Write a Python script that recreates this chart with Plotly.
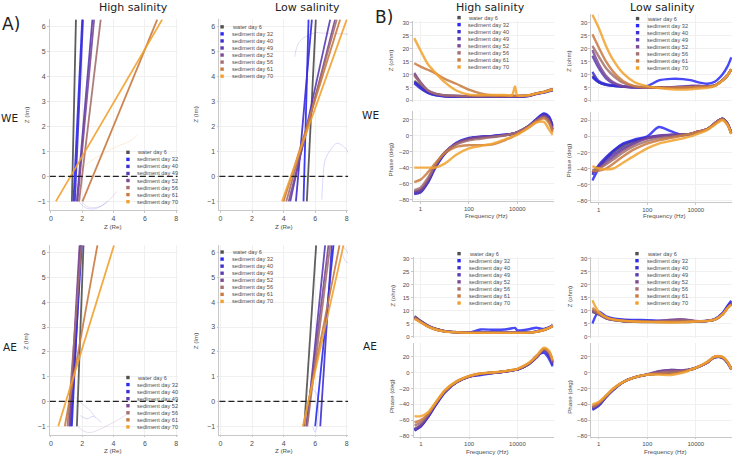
import plotly.graph_objects as go

W, H = 738, 458

SERIES = ["water day 6", "sediment day 32", "sediment day 40", "sediment day 49",
          "sediment day 52", "sediment day 56", "sediment day 61", "sediment day 70"]
COLORS = ["#505050", "#2a2af5", "#3d30d0", "#5b3cb4", "#7d4b94", "#a5706f", "#c97b40", "#f2a12e"]

# ---------------- Nyquist (panel A): Z(Re) where each tail crosses Z(Im) = -1 and the panel top
IM_ENDS = [-1.0, 6.3]
WE_HIGH_RE = [[1.34, 1.60], [1.44, 2.00], [1.53, 2.05], [1.66, 2.65], [1.70, 2.76], [1.80, 3.18], [2.02, 6.79], [0.32, 7.11]]
WE_LOW_RE = [[5.47, 6.04], [5.26, 5.58], [4.78, 5.79], [4.42, 6.95], [4.32, 7.26], [4.17, 7.37], [4.00, 7.58], [3.90, 8.00]]
AE_HIGH_RE = [[1.66, 2.08], [1.34, 1.91], [1.27, 1.97], [1.21, 1.87], [1.17, 1.83], [1.06, 1.95], [0.89, 2.97], [0.47, 4.03]]
AE_LOW_RE = [[5.31, 6.06], [6.00, 7.16], [6.32, 7.05], [5.47, 6.63], [5.43, 6.84], [5.50, 6.95], [5.26, 7.54], [5.22, 7.79]]

# faint high-frequency arcs (series index, Z(Re), Z(Im))
WE_HIGH_ARCS = [(4, [1.6, 1.9, 2.3, 2.8, 3.3, 3.8, 4.2], [-0.3, -0.9, -1.2, -1.25, -1.15, -0.9, -0.6]),
                (1, [1.5, 1.8, 2.2, 2.7, 3.2, 3.6], [-0.5, -1.0, -1.25, -1.3, -1.2, -1.0]),
                (7, [1.8, 2.5, 3.3, 4.2, 5.0, 5.5], [0.2, 0.6, 0.9, 1.2, 1.4, 1.65])]
WE_LOW_ARCS = [(1, [6.42, 6.5, 6.63, 7.0, 7.37, 7.8, 8.1, 8.3], [-0.93, 0.0, 0.66, 1.1, 1.33, 1.2, 0.93, -0.93]),
               (3, [4.7, 5.0, 5.9, 6.5, 8.2], [4.8, 5.4, 5.75, 5.75, 5.7])]
AE_HIGH_ARCS = [(4, [1.7, 2.1, 2.55, 3.2, 3.82, 4.4, 4.88], [-1.0, -1.2, -1.25, -1.1, -0.9, -0.7, -0.5]),
                (1, [1.9, 2.3, 2.7, 3.2], [-0.57, -0.7, -0.6, -0.84]),
                (3, [1.6, 2.0, 2.4, 2.8], [0.16, -0.1, -0.3, -0.6])]
AE_LOW_ARCS = [(1, [5.79, 6.1, 6.2, 6.0, 5.85], [0.55, 0.29, -0.5, -1.24, -1.04]),
               (1, [7.68, 8.3, 8.0, 7.7], [6.33, 5.67, 5.6, 6.0])]

# ---------------- Bode (panel B)
FREQ = [0.55, 1, 2, 4, 10, 30, 100, 300, 1000, 3000, 6000, 8000, 10000, 30000, 60000, 125000, 200000, 290000]

WE_HIGH_Z = [
    [7.5, 5.6, 3.4, 2.3, 1.8, 1.6, 1.6, 1.6, 1.6, 1.6, 1.6, 1.6, 1.6, 1.9, 2.6, 3.2, 3.7, 4.1],
    [7.0, 5.0, 3.0, 2.0, 1.6, 1.5, 1.5, 1.5, 1.5, 1.5, 1.5, 1.5, 1.5, 1.8, 2.5, 3.1, 3.6, 4.0],
    [6.6, 4.6, 2.9, 2.0, 1.5, 1.4, 1.4, 1.4, 1.4, 1.4, 1.4, 1.4, 1.4, 1.7, 2.4, 3.0, 3.5, 3.9],
    [10.0, 6.6, 3.6, 2.5, 1.8, 1.7, 1.6, 1.6, 1.6, 1.6, 1.6, 1.6, 1.6, 1.9, 2.6, 3.2, 3.8, 4.2],
    [10.6, 7.0, 3.8, 2.6, 1.9, 1.7, 1.6, 1.6, 1.6, 1.6, 1.6, 1.6, 1.6, 1.9, 2.6, 3.2, 3.8, 4.2],
    [9.6, 6.6, 3.9, 2.6, 2.0, 1.8, 1.7, 1.7, 1.7, 1.7, 1.7, 1.7, 1.7, 2.0, 2.7, 3.3, 3.9, 4.3],
    [14.3, 13.0, 11.8, 10.5, 8.3, 6.4, 4.1, 2.7, 1.9, 1.8, 1.8, 1.8, 1.8, 2.0, 2.7, 3.3, 3.9, 4.3],
    [24.0, 19.2, 14.0, 10.8, 7.0, 3.8, 2.2, 2.0, 2.1, 2.1, 2.0, 5.4, 2.0, 2.0, 2.6, 3.2, 3.7, 4.1],
]
WE_HIGH_P = [
    [-70, -68, -56, -39, -22, -10, -4, -2, -1, 0.5, 2, 3, 4, 12, 19, 25, 20, 8],
    [-72, -70, -58, -40, -22, -9, -3, -1.5, -0.5, 1, 2, 3, 4, 12, 20, 27.5, 24, 12],
    [-73, -71, -59, -41, -23, -10, -3.5, -1.5, -0.5, 1, 2, 3, 4, 12, 20, 27, 23, 11],
    [-72, -70, -57, -39, -22, -10, -4, -2, -1, 0.5, 2, 3, 4, 12, 19, 25, 20, 8],
    [-70, -68, -56, -38, -21, -10, -4, -2, -1, 0.5, 2, 3, 4, 12, 19, 24.5, 20, 7],
    [-68, -65, -53, -37, -21, -11, -6, -4, -2, 0, 2, 3, 4, 11.5, 18, 23, 18, 6],
    [-58, -55, -46, -35, -22, -14, -12, -12, -11, -6, -2, 0, 2, 10, 17, 21.5, 16, 4],
    [-40, -40, -40, -40, -35, -24, -16, -13, -10, -5, -1.5, 0, 1, 10, 16, 17, 8, 1],
]
WE_LOW_Z = [
    [9.5, 7.0, 6.0, 5.6, 5.3, 5.1, 5.0, 5.0, 5.0, 5.0, 5.1, 5.1, 5.1, 5.3, 5.7, 7.7, 9.6, 12.0],
    [9.0, 7.0, 6.0, 5.6, 5.3, 5.0, 5.5, 7.7, 8.3, 8.2, 7.8, 7.5, 7.2, 6.4, 7.2, 10.0, 13.0, 16.6],
    [11.0, 7.5, 6.3, 5.8, 5.4, 5.1, 5.0, 5.0, 5.0, 5.0, 5.1, 5.1, 5.1, 5.3, 5.7, 7.7, 9.6, 12.0],
    [17.2, 12.5, 8.5, 6.5, 5.3, 5.0, 4.9, 5.0, 5.1, 5.4, 5.6, 5.6, 5.6, 5.5, 5.7, 7.7, 9.6, 12.0],
    [19.4, 14.0, 9.5, 7.0, 5.5, 5.0, 4.9, 4.9, 5.0, 5.2, 5.5, 5.6, 5.6, 5.5, 5.7, 7.7, 9.6, 12.0],
    [21.0, 17.0, 12.5, 9.5, 6.8, 5.4, 5.0, 4.9, 4.9, 5.0, 5.1, 5.1, 5.2, 5.3, 5.7, 7.7, 9.6, 12.0],
    [25.5, 20.5, 15.0, 11.0, 7.5, 5.5, 5.0, 4.9, 4.9, 5.0, 5.1, 5.1, 5.2, 5.3, 5.7, 7.7, 9.6, 12.0],
    [33.0, 28.0, 21.0, 15.5, 10.5, 7.0, 5.5, 4.8, 4.3, 4.2, 4.3, 4.4, 4.5, 4.8, 5.5, 7.5, 9.6, 12.0],
]
WE_LOW_P = [
    [-45, -37, -28, -20, -12, -6, -2, 0, 1, 2, 3, 4, 5, 9, 16, 21.5, 15, 4],
    [-55, -40, -28, -18, -9, -4, 0, 11.5, 6, 1.5, 2.5, 3.5, 4.5, 9, 16, 22, 16, 4],
    [-48, -36, -26, -18, -10, -5, -1.5, 0, 1, 1.5, 3, 4, 5, 9, 16, 22, 16, 4],
    [-46, -38, -30, -23, -15, -8, -2, 1, 2, 2, 3, 4, 5, 9, 16, 22, 16, 4],
    [-45, -40, -33, -26, -17, -9, -3, 0, 2, 2.5, 3, 4, 5, 9, 16, 22, 16, 4],
    [-42, -40, -35, -29, -20, -12, -6, -2.5, -0.5, 1.5, 3, 4, 5, 9, 16, 21.5, 15, 3],
    [-43, -43, -40, -34, -25, -16, -9, -5, -2, 1, 3, 4, 5, 9, 16, 21, 15, 3],
    [-37, -40, -41, -40, -33, -24, -15, -9, -5.5, -2.5, 0, 1, 2, 8, 14, 20, 14, 3],
]
AE_HIGH_Z = [
    [7.8, 6.0, 4.2, 3.0, 2.1, 1.7, 1.5, 1.5, 1.5, 1.5, 1.5, 1.5, 1.5, 1.6, 1.9, 2.6, 3.3, 4.2],
    [7.3, 5.7, 4.0, 2.9, 2.0, 1.6, 1.5, 2.7, 2.6, 2.7, 3.2, 3.3, 2.4, 2.8, 3.4, 2.9, 3.5, 4.3],
    [7.2, 5.6, 3.9, 2.8, 2.0, 1.6, 1.5, 1.5, 1.5, 1.5, 1.5, 1.5, 1.5, 1.6, 1.9, 2.6, 3.3, 4.1],
    [7.4, 5.8, 4.0, 2.9, 2.0, 1.6, 1.5, 1.5, 1.5, 1.5, 1.5, 1.5, 1.5, 1.6, 1.9, 2.6, 3.3, 4.2],
    [7.5, 5.8, 4.1, 2.9, 2.1, 1.7, 1.5, 1.5, 1.5, 1.5, 1.5, 1.5, 1.5, 1.6, 1.9, 2.6, 3.3, 4.2],
    [7.2, 5.6, 3.9, 2.8, 2.0, 1.6, 1.4, 1.4, 1.4, 1.4, 1.4, 1.4, 1.4, 1.5, 1.8, 2.5, 3.2, 4.0],
    [7.0, 5.5, 3.8, 2.8, 2.0, 1.6, 1.4, 1.4, 1.4, 1.4, 1.4, 1.4, 1.4, 1.5, 1.8, 2.5, 3.2, 4.0],
    [6.8, 5.4, 3.8, 2.7, 1.9, 1.6, 1.4, 1.4, 1.4, 1.4, 1.4, 1.4, 1.4, 1.5, 1.8, 2.5, 3.2, 4.1],
]
AE_HIGH_P = [
    [-72, -67, -55, -41, -24, -12, -5, -1.5, 0, 1.5, 3, 3.5, 4, 11, 19, 29, 26, 13],
    [-73, -68, -56, -42, -25, -12, -5, -3, -0.5, 1.5, 3, 3.5, 4, 11, 21, 25, 18, 8],
    [-73, -68, -56, -41, -24, -12, -5, -2, 0, 1.5, 3, 3.5, 4, 11, 19, 28, 22, 10],
    [-72, -67, -55, -40, -24, -12, -5, -1.5, 0, 1.5, 3, 3.5, 4, 11, 19, 29, 24, 12],
    [-71, -66, -54, -40, -23, -12, -5, -1.5, 0, 1.5, 3, 3.5, 4, 11, 19, 29, 25, 12],
    [-67, -63, -53, -39, -23, -12, -4.5, -1, 0, 1.5, 3, 3.5, 4.5, 12, 20, 30, 26, 14],
    [-63, -60, -52, -39, -23, -11, -4.5, -1, 0.5, 2, 3.5, 4, 4.5, 12, 20, 30.5, 27, 15],
    [-55, -55, -50, -38, -22, -11, -4, -1, 0.5, 2, 3.5, 4, 5, 12.5, 21, 31.5, 28, 16],
]
AE_LOW_Z = [
    [9.5, 8.5, 7.0, 6.3, 5.9, 5.7, 5.6, 5.6, 5.6, 5.6, 5.6, 5.7, 5.7, 6.0, 6.5, 8.5, 11.0, 12.8],
    [5.0, 9.5, 7.8, 7.0, 6.6, 6.4, 6.3, 6.1, 6.0, 5.9, 5.9, 5.9, 5.9, 6.1, 6.7, 9.0, 11.8, 13.8],
    [10.0, 9.0, 7.5, 6.8, 6.3, 6.1, 6.0, 5.9, 5.9, 5.8, 5.8, 5.8, 5.8, 6.0, 6.6, 8.8, 11.5, 13.2],
    [10.0, 8.8, 7.2, 6.5, 6.0, 5.8, 5.7, 5.9, 6.3, 6.5, 6.2, 6.0, 5.9, 6.0, 6.5, 8.5, 11.0, 12.6],
    [9.8, 8.6, 7.1, 6.4, 6.0, 5.8, 5.7, 6.0, 6.5, 6.6, 6.3, 6.1, 6.0, 6.0, 6.5, 8.5, 11.0, 12.5],
    [10.2, 8.8, 7.2, 6.5, 6.0, 5.8, 5.7, 5.8, 6.0, 6.2, 6.0, 5.9, 5.9, 6.0, 6.5, 8.5, 11.0, 12.5],
    [11.0, 9.0, 7.3, 6.5, 6.0, 5.8, 5.7, 5.6, 5.6, 5.7, 5.8, 5.8, 5.8, 6.0, 6.5, 8.5, 11.0, 12.4],
    [14.0, 9.5, 7.5, 6.6, 6.1, 5.8, 5.6, 5.5, 5.4, 5.5, 5.7, 5.7, 5.8, 6.0, 6.5, 8.4, 10.8, 12.2],
]
AE_LOW_P = [
    [-44, -39, -30, -21, -12, -6, -2.5, -1, 0.5, 2, 4, 5, 6, 13, 19.5, 19, 13, 5],
    [-47, -42, -31, -22, -12, -6, -2.5, -1, 0.5, 2, 4, 5, 6, 13, 19.5, 19, 13, 4],
    [-46, -41, -31, -21, -12, -6, -2.5, -1, 0.5, 2, 4, 5, 6, 13, 19.5, 19, 13, 4],
    [-45, -40, -30, -21, -12, -6, -2.5, 1.5, 3.5, 3, 4, 5, 6, 13, 20, 19, 13, 5],
    [-45, -40, -30, -21, -12, -6, -2, 2, 3.5, 3, 4, 5, 6, 13, 20, 19, 13, 5],
    [-44, -39, -30, -21, -12, -6, -2.5, 0, 1.5, 2, 4, 5, 6, 13, 20, 19.5, 13, 5],
    [-42, -38, -29, -20, -12, -6, -2.5, -1.5, -1, 1, 4, 5, 6, 13, 20, 20, 14, 5],
    [-40, -37, -29, -20, -12, -6, -2.5, -2.5, -3, 0, 3.5, 5, 6, 14, 20.5, 20, 14, 4],
]

NYQ_TICKS_X = [0, 2, 4, 6, 8]
NYQ_TICKS_Y = [-1, 0, 1, 2, 3, 4, 5, 6]
Z_TICKS = [0, 5, 10, 15, 20, 25, 30]
P_TICKS = [-80, -60, -40, -20, 0, 20]
F_TICKS = [1, 100, 10000]

# ------------------------------------------------------------------
TICK_FONT = dict(family="Liberation Sans, Arial, sans-serif", size=7, color="#4d4d4d")
LABEL_FONT = dict(family="Liberation Sans, Arial, sans-serif", size=6.2, color="#4d4d4d")
LEG_FONT = dict(family="Liberation Sans, Arial, sans-serif", size=5.6, color="#4d4d4d")
BIG_FONT = dict(family="DejaVu Sans, sans-serif", size=11, color="#222222")

fig = go.Figure()
layout = {}
shapes = []
annotations = []
counter = [0]


def px_x(a, b):
    return [a / W, b / W]


def px_y(top, bot):
    return [1 - bot / H, 1 - top / H]


def add_axes(xdom, ydom, xrange, yrange, xtype, xticks, yticks, show_x=True, tick_size=7, xticktext=None):
    counter[0] += 1
    n = counter[0]
    xs = "" if n == 1 else str(n)
    xr, yr = "x" + xs, "y" + xs
    tf = dict(TICK_FONT, size=tick_size)
    layout["xaxis" + xs] = dict(
        domain=px_x(*xdom), range=xrange, type=xtype, anchor=yr,
        tickvals=xticks, ticktext=xticktext, showticklabels=show_x, showline=show_x,
        linecolor="#c8c8c8", linewidth=0.8, ticks="outside" if show_x else "", ticklen=1.5,
        tickcolor="#c8c8c8", showgrid=True, gridcolor="#f0f0f0", gridwidth=0.8,
        zeroline=False, tickfont=tf, fixedrange=True)
    layout["yaxis" + xs] = dict(
        domain=px_y(*ydom), range=yrange, anchor=xr,
        tickvals=yticks, showline=True, linecolor="#c8c8c8", linewidth=0.8,
        ticks="outside", ticklen=2, tickcolor="#c8c8c8", showgrid=True,
        gridcolor="#f0f0f0", gridwidth=0.8, zeroline=False, tickfont=tf, fixedrange=True)
    return xr, yr


def add_legend(sq_x, y0, text_x, step=7.1):
    for i, name in enumerate(SERIES):
        cy = y0 + i * step
        shapes.append(dict(type="rect", xref="paper", yref="paper",
                           x0=(sq_x - 1.7) / W, x1=(sq_x + 1.7) / W,
                           y0=1 - (cy + 1.7) / H, y1=1 - (cy - 1.7) / H,
                           fillcolor=COLORS[i], line=dict(width=0)))
        annotations.append(dict(text=name, xref="paper", yref="paper", x=text_x / W, y=1 - cy / H,
                                xanchor="left", yanchor="middle", showarrow=False, font=LEG_FONT))


def label(text, x, y, font, angle=0):
    annotations.append(dict(text=text, xref="paper", yref="paper", x=x / W, y=1 - y / H,
                            xanchor="center", yanchor="middle", showarrow=False, font=font,
                            textangle=angle))


def nyquist(xdom, ydom, ends, arcs, leg):
    xr, yr = add_axes(xdom, ydom, [-0.064, 8.08], [-1.35, 6.3], "linear", NYQ_TICKS_X, NYQ_TICKS_Y)
    for idx, xs_, ys_ in arcs:
        fig.add_trace(go.Scatter(x=xs_, y=ys_, xaxis=xr, yaxis=yr, mode="lines",
                                 line=dict(color=COLORS[idx], width=1, shape="spline"),
                                 opacity=0.18, showlegend=False, hoverinfo="skip"))
    for i, e in enumerate(ends):
        fig.add_trace(go.Scatter(x=e, y=IM_ENDS, xaxis=xr, yaxis=yr, mode="lines",
                                 line=dict(color=COLORS[i], width=1.8), opacity=0.9,
                                 showlegend=False, name=SERIES[i], hoverinfo="skip"))
    shapes.append(dict(type="line", xref=xr + " domain", yref=yr, x0=0, x1=1, y0=0, y1=0,
                       line=dict(color="#222222", width=1.3, dash="6px,3px")))
    add_legend(*leg)


def bode(xdom, zdom, pdom, zrange, prange, zvals, pvals, leg):
    xr, yr = add_axes(xdom, zdom, [-0.3, 5.5], zrange, "log", F_TICKS, Z_TICKS, show_x=False, tick_size=6)
    for i, v in enumerate(zvals):
        fig.add_trace(go.Scatter(x=FREQ, y=v, xaxis=xr, yaxis=yr, mode="lines",
                                 line=dict(color=COLORS[i], width=2.4, shape="spline", smoothing=0.8),
                                 opacity=0.85, showlegend=False, name=SERIES[i], hoverinfo="skip"))
    xr2, yr2 = add_axes(xdom, pdom, [-0.3, 5.5], prange, "log", F_TICKS, P_TICKS, tick_size=6,
                        xticktext=[str(t) for t in F_TICKS])
    for i, v in enumerate(pvals):
        fig.add_trace(go.Scatter(x=FREQ, y=v, xaxis=xr2, yaxis=yr2, mode="lines",
                                 line=dict(color=COLORS[i], width=2.4, shape="spline", smoothing=0.8),
                                 opacity=0.85, showlegend=False, name=SERIES[i], hoverinfo="skip"))
    add_legend(*leg)


# Panel A
nyquist((49, 177), (18.5, 210.5), WE_HIGH_RE, WE_HIGH_ARCS, (127.3, 152.3, 134))
nyquist((219, 348), (18.5, 210.5), WE_LOW_RE, WE_LOW_ARCS, (221.7, 26, 230))
nyquist((49, 177), (245.8, 436.8), AE_HIGH_RE, AE_HIGH_ARCS, (127.3, 379, 134))
nyquist((219, 348), (245.8, 436.8), AE_LOW_RE, AE_LOW_ARCS, (221.7, 252.7, 230))

# Panel B
bode((413.4, 554.1), (20.1, 101.6), (111.2, 201.6), [-0.6, 30.6], [-82, 30],
     WE_HIGH_Z, WE_HIGH_P, (459.3, 16.7, 466.7))
bode((592, 733.2), (12.6, 101.6), (111.9, 202.6), [-0.6, 33.5], [-82, 30],
     WE_LOW_Z, WE_LOW_P, (638.3, 17.7, 646))
bode((413.7, 554.1), (257.7, 339.3), (344.7, 438.6), [-0.6, 30.6], [-81, 37],
     AE_HIGH_Z, AE_HIGH_P, (459.3, 254.3, 467.3))
bode((592, 733.2), (257.7, 339.3), (344.7, 438.6), [-0.6, 30.6], [-81, 37],
     AE_LOW_Z, AE_LOW_P, (637.7, 254.3, 646))

# axis titles
for cx, cy in [(112.8, 226.7), (283.4, 226.7), (112.8, 452.5), (283.4, 452.5)]:
    label("Z (Re)", cx, cy, LABEL_FONT)
for cx, cy in [(25, 114), (195, 114), (25, 342), (195, 342)]:
    label("Z (Im)", cx, cy, LABEL_FONT, -90)
for cx, zy, py, fy, fx in [(390.7, 60, 160, 215.5, 486.7), (569, 60, 160, 215.5, 665),
                           (391.7, 297, 398, 453, 488.3), (570, 297, 398, 453, 666.7)]:
    label("Z (ohm)", cx, zy, LABEL_FONT, -90)
    label("Phase (deg)", cx, py, LABEL_FONT, -90)
    label("Frequency (Hz)", fx, fy, LABEL_FONT)

# headings
label("A)", 10, 23, dict(BIG_FONT, size=17))
label("B)", 384, 16, dict(BIG_FONT, size=17))
label("High salinity", 133, 7, BIG_FONT)
label("Low salinity", 307, 7, BIG_FONT)
label("High salinity", 491, 7, BIG_FONT)
label("Low salinity", 663, 7, BIG_FONT)
label("WE", 9, 118, dict(BIG_FONT, size=10.5))
label("AE", 9, 348, dict(BIG_FONT, size=10.5))
label("WE", 371, 115, dict(BIG_FONT, size=10.5))
label("AE", 370, 347, dict(BIG_FONT, size=10.5))

fig.update_layout(width=W, height=H, margin=dict(l=0, r=0, t=0, b=0), autosize=False,
                  paper_bgcolor="white", plot_bgcolor="white", showlegend=False,
                  shapes=shapes, annotations=annotations, **layout)
fig.write_html("out.html")
